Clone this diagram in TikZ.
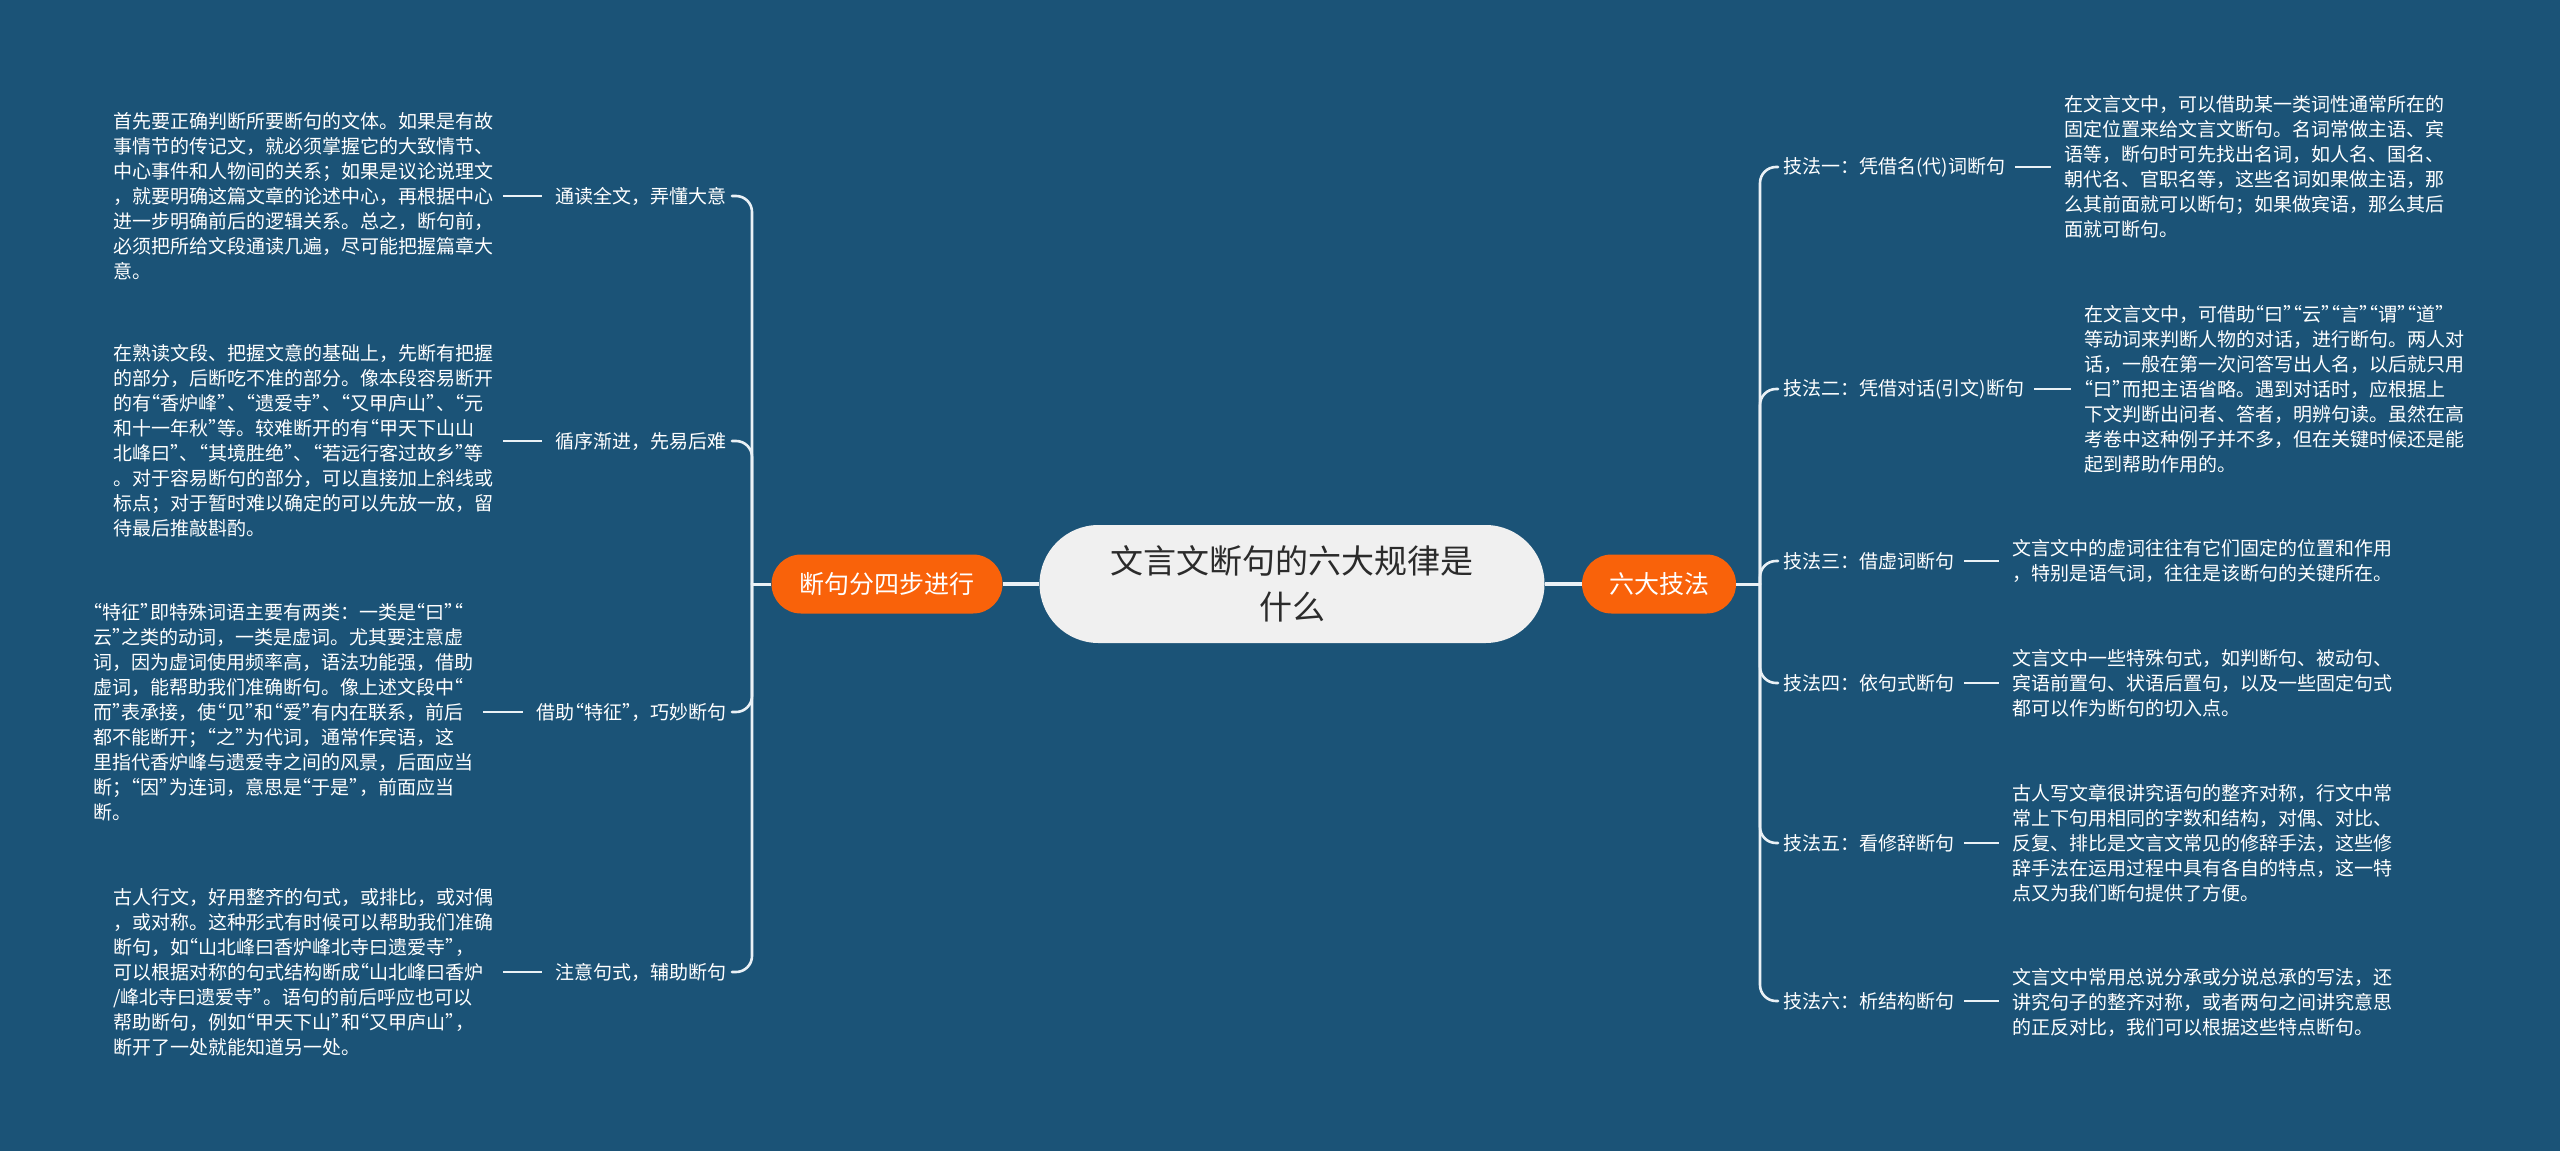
\documentclass[tikz,border=0pt]{standalone}
\usepackage{fontspec}
\newfontfamily\cjk{Noto Sans CJK SC}
\usetikzlibrary{positioning}
\definecolor{mmbg}{HTML}{1B5377}
\definecolor{mmorange}{HTML}{F9620A}
\definecolor{mmroot}{HTML}{F0F0F0}
\definecolor{mmink}{HTML}{2B2B2B}
\definecolor{mmline}{HTML}{EAF1F6}
\tikzset{
  topic/.style={rectangle,rounded corners=59pt,fill=mmroot,minimum width=505pt,minimum height=118pt,align=center,text=mmink,font=\cjk\fontsize{33}{46}\selectfont},
  branch/.style={rectangle,rounded corners=29.5pt,fill=mmorange,minimum height=59pt,text=white,font=\cjk\fontsize{25}{30}\selectfont},
  leaf/.style={inner sep=0pt,text=white,font=\cjk\fontsize{19}{25}\selectfont},
  note/.style={inner sep=0pt,align=left,text=white,font=\cjk\fontsize{19}{25}\selectfont},
  link/.style={draw=mmline,line width=4pt},
  bracket/.style={draw=mmline,line width=2.6pt,rounded corners=16pt,line cap=round},
  tick/.style={draw=mmline,line width=2.6pt},
}
% half-width curly quotes
\catcode`“=\active \def“{\hbox to .5em{\hss\char"201C}}
\catcode`”=\active \def”{\hbox to .5em{\char"201D\hss}}

\begin{document}
\begin{tikzpicture}[x=1pt,y=-1pt]
  \fill[mmbg] (0,0) rectangle (2560,1151);
  \useasboundingbox (0,0) rectangle (2560,1151);
  % centre and main branches
  \node[topic] (root) at (1292,584) {文言文断句的六大规律是\\什么};
  \node[branch,minimum width=231pt] (steps) at (887,584) {断句分四步进行};
  \node[branch,minimum width=154pt] (skills) at (1659,584) {六大技法};
  \draw[link] (steps) -- (root) -- (skills);
  \coordinate (jl) at (752,584);
  \coordinate (jr) at (1760,584);
  \draw[link,line width=3pt] (steps.west) -- (jl);
  \draw[link,line width=3pt] (skills.east) -- (jr);

  % left side: four steps
  \node[leaf,anchor=east] (s1) at (727,196) {通读全文，弄懂大意};
  \node[leaf,anchor=east] (s2) at (727,441) {循序渐进，先易后难};
  \node[leaf,anchor=east] (s3) at (727,712) {借助“特征”，巧妙断句};
  \node[leaf,anchor=east] (s4) at (727,972) {注意句式，辅助断句};
  \foreach \n in {s1,s2,s3,s4}
    \draw[bracket,shorten >=5pt] (jl) |- (\n.east);

  \node[note,anchor=west] (t1) at (113,196) {首先要正确判断所要断句的文体。如果是有故\\事情节的传记文，就必须掌握它的大致情节、\\中心事件和人物间的关系；如果是议论说理文\\，就要明确这篇文章的论述中心，再根据中心\\进一步明确前后的逻辑关系。总之，断句前，\\必须把所给文段通读几遍，尽可能把握篇章大\\意。};
  \node[note,anchor=west] (t2) at (113,441) {在熟读文段、把握文意的基础上，先断有把握\\的部分，后断吃不准的部分。像本段容易断开\\的有“香炉峰”、“遗爱寺”、“又甲庐山”、“元\\和十一年秋”等。较难断开的有“甲天下山山\\北峰曰”、“其境胜绝”、“若远行客过故乡”等\\。对于容易断句的部分，可以直接加上斜线或\\标点；对于暂时难以确定的可以先放一放，留\\待最后推敲斟酌。};
  \node[note,anchor=west] (t3) at (93,712) {“特征”即特殊词语主要有两类：一类是“曰”“\\云”之类的动词，一类是虚词。尤其要注意虚\\词，因为虚词使用频率高，语法功能强，借助\\虚词，能帮助我们准确断句。像上述文段中“\\而”表承接，使“见”和“爱”有内在联系，前后\\都不能断开；“之”为代词，通常作宾语，这\\里指代香炉峰与遗爱寺之间的风景，后面应当\\断；“因”为连词，意思是“于是”，前面应当\\断。};
  \node[note,anchor=west] (t4) at (113,972) {古人行文，好用整齐的句式，或排比，或对偶\\，或对称。这种形式有时候可以帮助我们准确\\断句，如“山北峰曰香炉峰北寺曰遗爱寺”，\\可以根据对称的句式结构断成“山北峰曰香炉\\/峰北寺曰遗爱寺”。语句的前后呼应也可以\\帮助断句，例如“甲天下山”和“又甲庐山”，\\断开了一处就能知道另一处。};
  \foreach \n/\t in {s1/t1,s2/t2,s3/t3,s4/t4}
    \draw[tick,shorten <=14pt,shorten >=10pt] (\n.west) -- (\n.west -| \t.east);

  % right side: six skills
  \node[leaf,anchor=west] (k1) at (1783,167) {技法一：凭借名(代)词断句};
  \node[leaf,anchor=west] (k2) at (1783,389) {技法二：凭借对话(引文)断句};
  \node[leaf,anchor=west] (k3) at (1783,561) {技法三：借虚词断句};
  \node[leaf,anchor=west] (k4) at (1783,683) {技法四：依句式断句};
  \node[leaf,anchor=west] (k5) at (1783,843) {技法五：看修辞断句};
  \node[leaf,anchor=west] (k6) at (1783,1001) {技法六：析结构断句};
  \foreach \n in {k1,k2,k3,k4,k5,k6}
    \draw[bracket,shorten >=5pt] (jr) |- (\n.west);

  \node[note,anchor=west] (d1) at (2064,167) {在文言文中，可以借助某一类词性通常所在的\\固定位置来给文言文断句。名词常做主语、宾\\语等，断句时可先找出名词，如人名、国名、\\朝代名、官职名等，这些名词如果做主语，那\\么其前面就可以断句；如果做宾语，那么其后\\面就可断句。};
  \node[note,anchor=west] (d2) at (2084,389) {在文言文中，可借助“曰”“云”“言”“谓”“道”\\等动词来判断人物的对话，进行断句。两人对\\话，一般在第一次问答写出人名，以后就只用\\“曰”而把主语省略。遇到对话时，应根据上\\下文判断出问者、答者，明辨句读。虽然在高\\考卷中这种例子并不多，但在关键时候还是能\\起到帮助作用的。};
  \node[note,anchor=west] (d3) at (2012,561) {文言文中的虚词往往有它们固定的位置和作用\\，特别是语气词，往往是该断句的关键所在。};
  \node[note,anchor=west] (d4) at (2012,683) {文言文中一些特殊句式，如判断句、被动句、\\宾语前置句、状语后置句，以及一些固定句式\\都可以作为断句的切入点。};
  \node[note,anchor=west] (d5) at (2012,843) {古人写文章很讲究语句的整齐对称，行文中常\\常上下句用相同的字数和结构，对偶、对比、\\反复、排比是文言文常见的修辞手法，这些修\\辞手法在运用过程中具有各自的特点，这一特\\点又为我们断句提供了方便。};
  \node[note,anchor=west] (d6) at (2012,1002) {文言文中常用总说分承或分说总承的写法，还\\讲究句子的整齐对称，或者两句之间讲究意思\\的正反对比，我们可以根据这些特点断句。};
  \foreach \n/\t in {k1/d1,k2/d2,k3/d3,k4/d4,k5/d5,k6/d6}
    \draw[tick,shorten <=10pt,shorten >=13pt] (\n.east) -- (\n.east -| \t.west);
\end{tikzpicture}
\end{document}
